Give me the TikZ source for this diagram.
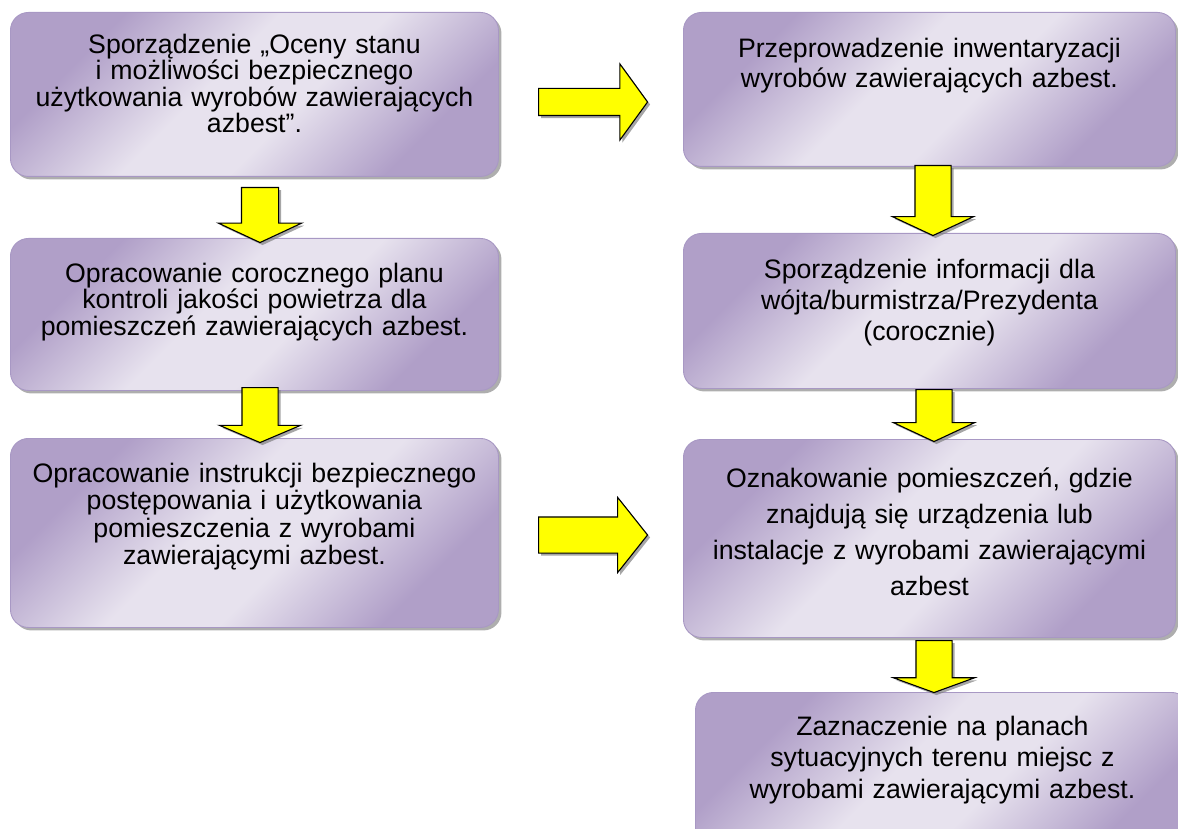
\documentclass[tikz,border=0pt]{standalone}
\usepackage{fontspec}
\setmainfont{Liberation Sans}
\usepackage{tikz}
\usetikzlibrary{shapes.arrows,shadows}
\definecolor{boxlight}{RGB}{231,226,238}
\definecolor{boxdark}{RGB}{176,159,200}
\definecolor{boxline}{RGB}{168,152,196}
\definecolor{arrowfill}{RGB}{255,255,0}
\pgfdeclarehorizontalshading{boxshade}{100bp}{color(0bp)=(boxdark); color(27bp)=(boxdark);
  color(44bp)=(boxlight); color(56bp)=(boxlight); color(73bp)=(boxdark); color(100bp)=(boxdark)}
\tikzset{
  stepbox/.style={draw=boxline, line width=0.9pt, rounded corners=18pt, shading=boxshade, shading angle=-45,
    inner sep=0pt, align=center, anchor=north west, font=\fontsize{26.7}{#1}\selectfont,
    drop shadow={shadow xshift=3pt, shadow yshift=-3pt, fill=black!45, opacity=0.7}},
  stepbox/.default=27,
  % strzalki
  blockarrow/.style={single arrow, draw=black, line width=1.1pt, fill=arrowfill, inner sep=17.5pt,
    anchor=tail, drop shadow={shadow xshift=2.5pt, shadow yshift=-2.5pt, fill=black!50, opacity=0.7}},
  darrow/.style={blockarrow, shape border rotate=270,
    single arrow head extend=22.5pt, single arrow tip angle=130},
  rarrow/.style={blockarrow, minimum height=109pt}
}
\begin{document}
\begin{tikzpicture}[x=1pt, y=-1pt]
  \useasboundingbox (0,0) rectangle (1178,829);
  \clip (0,0) rectangle (1178,829);
  % lewa kolumna
  \node[stepbox=26.5, text width=488pt, text height=41pt, text depth=123pt] (ocena) at (10,12)
    {Sporządzenie „Oceny stanu\\ i możliwości bezpiecznego\\ użytkowania wyrobów zawierających\\ azbest”.};
  \node[stepbox=26.5, text width=488pt, text height=44pt, text depth=108pt] (plan) at (10,238)
    {Opracowanie corocznego planu\\ kontroli jakości powietrza dla\\ pomieszczeń zawierających azbest.};
  \node[stepbox=27.5, text width=488pt, text height=44pt, text depth=145pt] (instrukcja) at (10,438)
    {Opracowanie instrukcji bezpiecznego\\ postępowania i użytkowania\\ pomieszczenia z wyrobami\\ zawierającymi azbest.};
  % prawa kolumna
  \node[stepbox=30.5, text width=492pt, text height=45pt, text depth=109pt] (inwent) at (683,12)
    {Przeprowadzenie inwentaryzacji\\ wyrobów zawierających azbest.};
  \node[stepbox=31, text width=492pt, text height=45pt, text depth=110pt] (info) at (683,233)
    {Sporządzenie informacji dla\\ wójta/burmistrza/Prezydenta\\ (corocznie)};
  \node[stepbox=36, text width=492pt, text height=48.5pt, text depth=149.5pt] (oznak) at (683,439)
    {Oznakowanie pomieszczeń, gdzie\\ znajdują się urządzenia lub\\ instalacje z wyrobami zawierającymi\\ azbest};
  \node[stepbox=31.5, text width=494pt, text height=42.6pt, text depth=135pt] (plany) at (695,692)
    {Zaznaczenie na planach\\ sytuacyjnych terenu miejsc z\\ wyrobami zawierającymi azbest.};
  % strzalki
  \node[darrow, minimum height=55pt, inner sep=18pt, single arrow head extend=23pt] (ocena-plan) at (260,187) {};
  \node[darrow, minimum height=55pt, single arrow tip angle=134] (plan-instr) at (260,387) {};
  \node[darrow, minimum height=70pt] (inwent-info) at (933,165) {};
  \node[darrow, minimum height=52pt] (info-oznak) at (934,389) {};
  \node[darrow, minimum height=52pt, single arrow tip angle=140] (oznak-plany) at (934,640) {};
  \node[rarrow, inner sep=13pt, single arrow head extend=24.5pt, single arrow tip angle=108] (ocena-inwent) at (538,102) {};
  \node[rarrow, single arrow head extend=19.5pt, single arrow tip angle=103] (instr-oznak) at (538,535) {};
\end{tikzpicture}
\end{document}
